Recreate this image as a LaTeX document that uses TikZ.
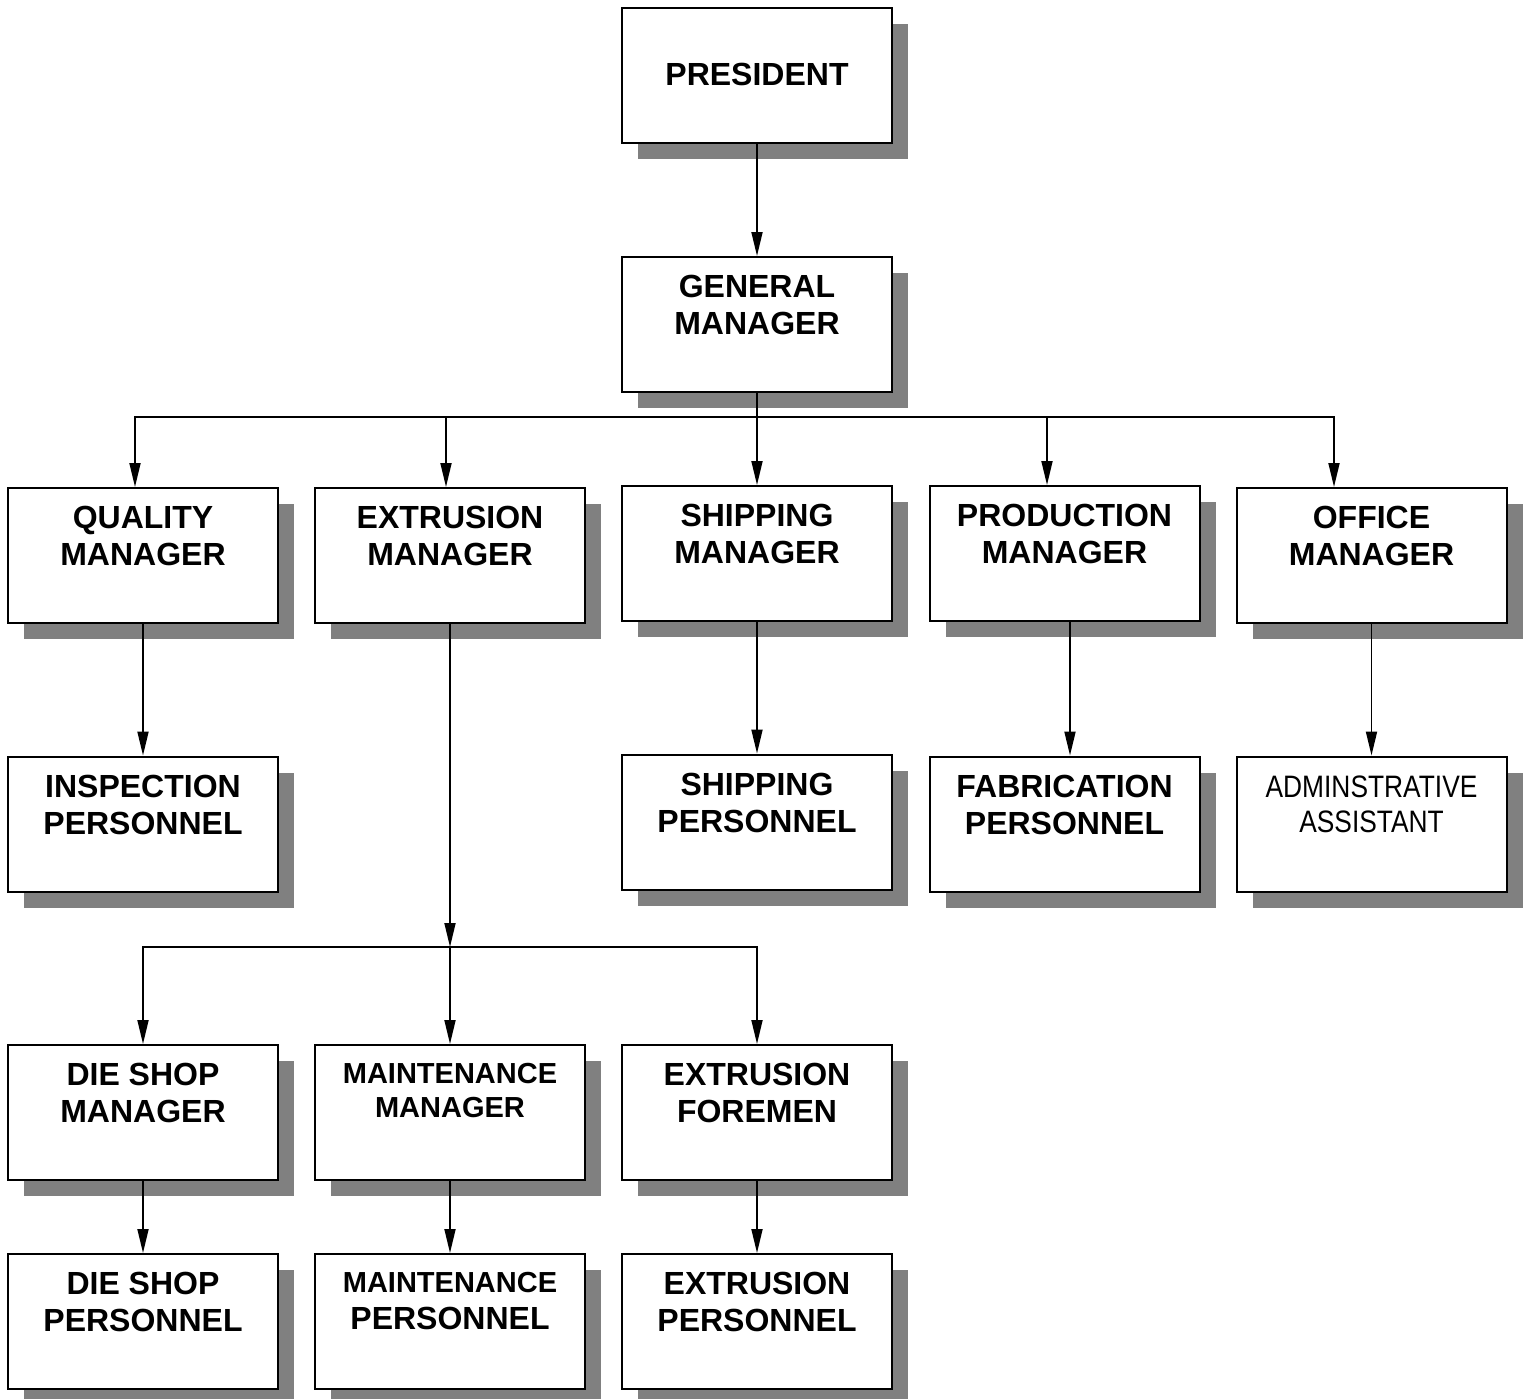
\documentclass[tikz,border=0pt]{standalone}
\usepackage{fontspec}
\setmainfont{Liberation Sans}
\newfontfamily\narrowsans[FakeStretch=0.85]{Liberation Sans}
\usetikzlibrary{arrows.meta,shadows}
\tikzset{
  orgbox/.style={draw, line width=1pt, fill=white, minimum width=135pt, minimum height=67.5pt,
    inner sep=0pt, align=center, text height=30pt, text depth=20pt,
    font=\bfseries\fontsize{16pt}{18.5pt}\selectfont,
    drop shadow={shadow xshift=8pt, shadow yshift=-8pt, fill=black!50, opacity=1}},
  smallbox/.style={orgbox, text depth=25pt, font=\bfseries\fontsize{14.5pt}{17pt}\selectfont},
  link/.style={line width=0.9pt, -{Triangle[length=12pt,width=5.5pt]}},
  bus/.style={line width=0.9pt}
}
\begin{document}
\begin{tikzpicture}[x=0.5pt,y=-0.5pt]
	\useasboundingbox (0,0) rectangle (1528,1399);
	\node[orgbox] (pres) at (757,75) {PRESIDENT};
	\node[orgbox] (gm) at (757,324.5) {GENERAL\\MANAGER};
	% managers
	\node[orgbox] (qm) at (143,555.5) {QUALITY\\MANAGER};
	\node[orgbox] (em) at (450,555.5) {EXTRUSION\\MANAGER};
	\node[orgbox] (sm) at (757,553.5) {SHIPPING\\MANAGER};
	\node[orgbox] (pm) at (1064.5,553.5) {PRODUCTION\\MANAGER};
	\node[orgbox] (om) at (1371.5,555.5) {OFFICE\\MANAGER};
	% staff
	\node[orgbox] (ip) at (143,824) {INSPECTION\\PERSONNEL};
	\node[orgbox] (sp) at (757,822) {SHIPPING\\PERSONNEL};
	\node[orgbox] (fp) at (1064.5,824) {FABRICATION\\PERSONNEL};
	\node[orgbox, text depth=22pt, font=\narrowsans\fontsize{15.5pt}{17.5pt}\selectfont] (aa) at (1371.5,824) {ADMINSTRATIVE\\ASSISTANT};
	% extrusion side
	\node[orgbox] (dsm) at (143,1112.5) {DIE SHOP\\MANAGER};
	\node[smallbox] (mm) at (450,1112.5) {MAINTENANCE\\MANAGER};
	\node[orgbox] (ef) at (757,1112.5) {EXTRUSION\\FOREMEN};
	\node[orgbox] (dsp) at (143,1321.5) {DIE SHOP\\PERSONNEL};
	\node[orgbox, text depth=22pt] (mp) at (450,1321.5) {{\fontsize{14.5pt}{17pt}\selectfont MAINTENANCE}\\PERSONNEL};
	\node[orgbox] (ep) at (757,1321.5) {EXTRUSION\\PERSONNEL};

	\coordinate (topbus) at (757,417);
	\coordinate (lowbus) at (450,947);
	\draw[link] (pres) -- (gm);
	\draw[bus] (gm.south) -- (topbus);
	\draw[link] (topbus) -| ([xshift=-4pt]qm.north);
	\draw[link] (topbus) -| ([xshift=-2pt]em.north);
	\draw[link] (topbus) -- (sm.north);
	\draw[link] (topbus) -| ([xshift=-8.75pt]pm.north);
	\draw[link] (topbus) -| ([xshift=-18.75pt]om.north);
	\draw[link] (qm) -- (ip);
	\draw[link] (sm) -- (sp);
	\draw[link] ([xshift=2.75pt]pm.south) -- ([xshift=2.75pt]fp.north);
	\draw[link] (om) -- (aa);
	\draw[link] (em.south) -- (lowbus);
	\draw[link] (lowbus) -| (dsm.north);
	\draw[link] (lowbus) -- (mm.north);
	\draw[link] (lowbus) -| (ef.north);
	\draw[link] (dsm) -- (dsp);
	\draw[link] (mm) -- (mp);
	\draw[link] (ef) -- (ep);
\end{tikzpicture}
\end{document}
